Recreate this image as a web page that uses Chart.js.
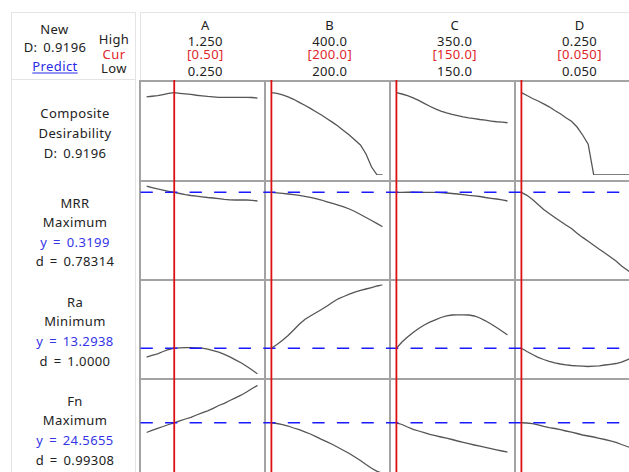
<!DOCTYPE html>
<html>
<head>
<meta charset="utf-8">
<script src="https://cdn.jsdelivr.net/npm/chart.js@4.4.1/dist/chart.umd.min.js"></script>
<style>
  html, body { margin: 0; padding: 0; background: #fff; }
  body { width: 629px; height: 472px; overflow: hidden; position: relative;
         font-family: "Noto Sans", "Open Sans", sans-serif; font-size: 13px; color: #222; }
  .t { position: absolute; transform: translate(-50%, -50%); white-space: nowrap;
       line-height: 1; letter-spacing: 0.4px; word-spacing: 2px; }
  .red { color: #e0262b; }
  .blue { color: #3434e8; }
  .link { color: #2a2ae6; text-decoration: underline; text-underline-offset: 2px; }
  .ln { position: absolute; background: #e4e4e4; }
  canvas { position: absolute; }
</style>
</head>
<body>
<script>
// Factors (columns)
const factorNames = ['A', 'B', 'C', 'D'];
const lows  = [0.25, 200, 150, 0.05];
const highs = [1.25, 400, 350, 0.25];
const curs  = [0.50, 200, 150, 0.05];
const highLabels = ['1.250', '400.0', '350.0', '0.250'];
const curLabels  = ['[0.50]', '[200.0]', '[150.0]', '[0.050]'];
const lowLabels  = ['0.250', '200.0', '150.0', '0.050'];

// Responses (rows)
const compositeD = '0.9196';
const responseNames = ['MRR', 'Ra', 'Fn'];
const goals = ['Maximum', 'Minimum', 'Maximum'];
const predicted = [0.3199, 13.2938, 24.5655];
const predictedLabels = ['0.3199', '13.2938', '24.5655'];
const desirability = ['0.78314', '1.0000', '0.99308'];

// Y ranges for each row: composite, MRR, Ra, Fn
const yMins = [0, 0.04, 12.0, 15.0];
const yMaxs = [1, 0.343, 16.45, 32.0];

// Curves, 21 settings from low to high of each factor
const compA = [0.872, 0.880, 0.888, 0.899, 0.911, 0.9196, 0.913, 0.907, 0.900, 0.891, 0.885, 0.878, 0.873, 0.868, 0.868, 0.868, 0.868, 0.868, 0.868, 0.866, 0.858];
const compB = [0.9196, 0.913, 0.894, 0.872, 0.846, 0.812, 0.779, 0.745, 0.707, 0.670, 0.629, 0.588, 0.544, 0.495, 0.447, 0.391, 0.335, 0.235, 0.089, 0, 0];
const compC = [0.9196, 0.905, 0.887, 0.862, 0.833, 0.800, 0.768, 0.738, 0.714, 0.694, 0.677, 0.663, 0.650, 0.639, 0.630, 0.620, 0.612, 0.603, 0.595, 0.590, 0.584];
const compD = [0.9196, 0.888, 0.855, 0.827, 0.795, 0.762, 0.721, 0.684, 0.640, 0.600, 0.536, 0.447, 0.345, 0, 0, 0, 0, 0, 0, 0, 0];

const mrrA = [0.3413, 0.3362, 0.3312, 0.3271, 0.3234, 0.3199, 0.3159, 0.3119, 0.3091, 0.3068, 0.3047, 0.3024, 0.3007, 0.2987, 0.2963, 0.2946, 0.2939, 0.2939, 0.2939, 0.2929, 0.2905];
const mrrB = [0.3199, 0.3183, 0.3166, 0.3142, 0.3119, 0.3095, 0.3064, 0.3031, 0.2983, 0.2939, 0.2878, 0.2821, 0.2763, 0.2709, 0.2635, 0.2550, 0.2448, 0.2347, 0.2245, 0.2140, 0.2032];
const mrrC = [0.3199, 0.3200, 0.3201, 0.3201, 0.3200, 0.3199, 0.3199, 0.3196, 0.3189, 0.3176, 0.3159, 0.3142, 0.3122, 0.3098, 0.3081, 0.3058, 0.3024, 0.2997, 0.2973, 0.2946, 0.2905];
const mrrD = [0.3199, 0.3098, 0.2956, 0.2787, 0.2618, 0.2479, 0.2347, 0.2218, 0.2093, 0.1974, 0.1812, 0.1673, 0.1541, 0.1409, 0.1270, 0.1145, 0.1010, 0.0875, 0.0706, 0.0570, 0.0435];

const raA = [12.847, 12.932, 13.016, 13.130, 13.229, 13.2938, 13.313, 13.318, 13.318, 13.313, 13.293, 13.244, 13.179, 13.095, 12.991, 12.867, 12.718, 12.570, 12.396, 12.213, 12.015];
const raB = [13.2938, 13.477, 13.685, 13.923, 14.195, 14.478, 14.716, 14.889, 15.048, 15.211, 15.385, 15.573, 15.741, 15.855, 15.969, 16.068, 16.153, 16.227, 16.301, 16.376, 16.440];
const raC = [13.2938, 13.601, 13.848, 14.071, 14.270, 14.443, 14.582, 14.701, 14.815, 14.899, 14.939, 14.948, 14.948, 14.939, 14.889, 14.790, 14.651, 14.493, 14.319, 14.136, 13.947];
const raD = [13.2938, 13.130, 12.981, 12.842, 12.733, 12.644, 12.570, 12.510, 12.471, 12.436, 12.421, 12.401, 12.386, 12.401, 12.421, 12.461, 12.495, 12.535, 12.609, 12.718, 12.832];

const fnA = [22.724, 23.140, 23.519, 23.860, 24.238, 24.5655, 24.939, 25.279, 25.601, 26.037, 26.453, 26.832, 27.305, 27.835, 28.252, 28.782, 29.293, 29.785, 30.391, 31.053, 31.659];
const fnB = [24.5655, 24.428, 24.219, 23.954, 23.576, 23.254, 22.856, 22.440, 21.948, 21.436, 20.963, 20.452, 19.884, 19.316, 18.748, 18.086, 17.423, 16.666, 15.947, 15.378, 15.0];
const fnC = [24.5655, 24.238, 23.765, 23.330, 23.008, 22.686, 22.383, 22.118, 21.872, 21.645, 21.399, 21.115, 20.869, 20.604, 20.357, 20.130, 19.922, 19.676, 19.449, 19.222, 18.994];
const fnD = [24.5655, 24.522, 24.390, 24.182, 23.898, 23.651, 23.481, 23.254, 23.008, 22.781, 22.534, 22.251, 22.061, 21.872, 21.626, 21.399, 21.153, 20.869, 20.452, 20.073, 19.695];

const rowCurves = [
  [compA, compB, compC, compD],
  [mrrA, mrrB, mrrC, mrrD],
  [raA, raB, raC, raD],
  [fnA, fnB, fnC, fnD]
];
const rowTargets = [null, predicted[0], predicted[1], predicted[2]];

// ---- layout ----
const colLeft = [139, 264, 389, 514];
const colWidth = 125;
const rowTop = [80, 180, 279, 378];
const rowHeight = [100, 99, 99, 100];
const padTop = [5.5, 5.5, 5.5, 5.5];
const padBottom = [5, 4, 3.7, 4.7];
const textCols = [205.3, 329.8, 454.7, 579.6];
const dashStart = 140.5;

function addText(txt, x, y, cls) {
  const d = document.createElement('div');
  d.className = 't' + (cls ? ' ' + cls : '');
  d.textContent = txt;
  d.style.left = x + 'px';
  d.style.top = y + 'px';
  document.body.appendChild(d);
}
function addLine(x, y, w, h) {
  const d = document.createElement('div');
  d.className = 'ln';
  d.style.left = x + 'px'; d.style.top = y + 'px';
  d.style.width = w + 'px'; d.style.height = h + 'px';
  document.body.appendChild(d);
}

// light frame of the header and label column
addLine(11, 12, 125, 1);
addLine(140, 12, 489, 1);
addLine(11, 79, 125, 1);
addLine(11, 12, 1, 460);
addLine(135, 12, 1, 460);
addLine(140, 12, 1, 68);

// header, left block
addText('New', 54.5, 28.7);
addText('D: ' + compositeD, 55, 46.7);
addText('Predict', 55, 65.5, 'link');
addText('High', 114, 38.5);
addText('Cur', 114, 53.5, 'red');
addText('Low', 114, 68);

// header, factor columns
factorNames.forEach((n, j) => {
  addText(n, textCols[j], 25);
  addText(highLabels[j], textCols[j], 40.8);
  addText(curLabels[j], textCols[j], 53.8, 'red');
  addText(lowLabels[j], textCols[j], 70.5);
});

// row labels
addText('Composite', 75, 112.5);
addText('Desirability', 75, 132.5);
addText('D: ' + compositeD, 75, 152.5);
const labelTops = [202.5, 301.8, 400.8];
responseNames.forEach((n, r) => {
  const y0 = labelTops[r];
  addText(n, 75, y0);
  addText(goals[r], 75, y0 + 19.6);
  addText('y = ' + predictedLabels[r], 75, y0 + 39, 'blue');
  addText('d = ' + desirability[r], 75, y0 + 58.8);
});

// ---- panels ----
const N = 20;
function settings(j) {
  const a = [];
  for (let i = 0; i <= N; i++) a.push(lows[j] + (highs[j] - lows[j]) * i / N);
  return a;
}

function panelPlugin(j, target) {
  return {
    id: 'panel',
    beforeDraw(chart) {
      const ctx = chart.ctx;
      ctx.save();
      ctx.fillStyle = '#a3a3a3';
      ctx.fillRect(0, 0, 2, chart.height);
      ctx.fillRect(0, 0, chart.width, 2);
      ctx.restore();
    },
    afterDatasetsDraw(chart) {
      const ctx = chart.ctx;
      ctx.save();
      if (target !== null) {
        const y = chart.scales.y.getPixelForValue(target);
        const left = colLeft[j];
        const sx = Math.max(0, dashStart - left);
        ctx.strokeStyle = '#1a1aff';
        ctx.lineWidth = 1.5;
        ctx.setLineDash([12.3, 12.25]);
        ctx.lineDashOffset = left + sx - dashStart;
        ctx.beginPath();
        ctx.moveTo(sx, y);
        ctx.lineTo(chart.width, y);
        ctx.stroke();
      }
      const x = chart.scales.x.getPixelForValue(curs[j]);
      ctx.setLineDash([]);
      ctx.strokeStyle = '#dd1111';
      ctx.lineWidth = 1.8;
      ctx.beginPath();
      ctx.moveTo(x, 0);
      ctx.lineTo(x, chart.height);
      ctx.stroke();
      ctx.restore();
    }
  };
}

for (let r = 0; r < 4; r++) {
  for (let j = 0; j < 4; j++) {
    const cv = document.createElement('canvas');
    cv.width = colWidth; cv.height = rowHeight[r];
    cv.style.left = colLeft[j] + 'px';
    cv.style.top = rowTop[r] + 'px';
    cv.style.width = colWidth + 'px';
    cv.style.height = rowHeight[r] + 'px';
    document.body.appendChild(cv);
    const xs = settings(j);
    const vals = rowCurves[r][j];
    new Chart(cv, {
      type: 'line',
      data: {
        datasets: [{
          data: xs.map((x, i) => ({ x: x, y: vals[i] })),
          borderColor: '#555555',
          borderWidth: 1.3,
          pointRadius: 0,
          tension: 0,
          fill: false
        }]
      },
      options: {
        responsive: false,
        animation: false,
        events: [],
        devicePixelRatio: 1,
        layout: { padding: { left: 7.4, right: 6.3, top: padTop[r], bottom: padBottom[r] } },
        scales: {
          x: { type: 'linear', min: lows[j], max: highs[j], display: false },
          y: { type: 'linear', min: yMins[r], max: yMaxs[r], display: false }
        },
        plugins: { legend: { display: false }, tooltip: { enabled: false } }
      },
      plugins: [panelPlugin(j, rowTargets[r])]
    });
  }
}
</script>
</body>
</html>
